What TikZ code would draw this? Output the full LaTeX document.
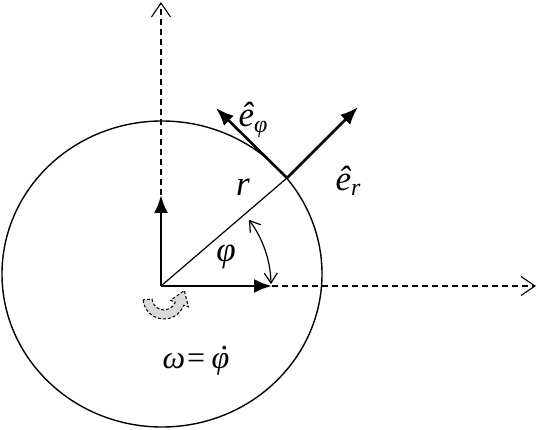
\documentclass[tikz,border=0pt]{standalone}
\usepackage{amsmath}
\usepackage{fontspec}
\setmainfont{Liberation Serif}
\usetikzlibrary{arrows.meta,calc}
\newcommand{\subsc}[1]{\raisebox{-0.35ex}{\fontsize{24}{24}\selectfont\itshape #1}}
\newcommand{\dotphi}{\rlap{\hspace{0.3em}\raisebox{0.6em}{.}}φ}
\begin{document}
\begin{tikzpicture}[x=1pt,y=1pt,
    vec/.style={line width=2.6pt,-{Latex[length=18pt,width=14pt]}},
    axis/.style={line width=1.1pt,dash pattern=on 6pt off 4pt,
      -{Straight Barb[length=14pt,width=19pt,line width=1.1pt]}},
    lbl/.style={font=\fontsize{35}{38}\selectfont\itshape,inner sep=0pt}]
  \useasboundingbox (0,0) rectangle (538,429);
  \coordinate (O) at (161,143);
  \coordinate (M) at (162,155);
  \coordinate (P) at (287,251);
  \coordinate (ey) at (161,234);
  \coordinate (ex) at (272,143);
  \coordinate (Y) at (161,427);
  \coordinate (X) at (536,143);
  \coordinate (er) at (358,322);
  \coordinate (ephi) at (216,321);
  \coordinate (w) at (164,131);
  \draw[line width=1.4pt] (M) ellipse[x radius=160,y radius=153];
  \draw[axis] (ey) -- (Y);
  \draw[axis] (ex) -- (X);
  \draw[line width=1.2pt] (O) -- (P);
  \draw[vec] (O) -- (ey);
  \draw[vec] (O) -- (ex);
  \draw[vec] (P) -- (er);
  \draw[vec] (P) -- (ephi);
  \draw[line width=1.2pt,{Straight Barb[length=10pt,width=13pt]}-{Straight Barb[length=10pt,width=13pt]}]
    ([shift={(37:110)}]O) arc[start angle=37,end angle=1,radius=110];
  \draw[fill=gray!30,line width=1pt,dash pattern=on 3pt off 2pt]
    ([shift={(185:21)}]w) arc[start angle=185,end angle=340,radius=21]
    -- ([shift={(340:26)}]w) -- ($(w)+(340:16.5)+(70:14)$)
    -- ([shift={(340:7)}]w) -- ([shift={(340:12)}]w)
    arc[start angle=340,end angle=185,radius=12] -- cycle;
  \node[lbl] (lphi) at (253,309) {ê\subsc{φ}};
  \node[lbl] (lr) at (243,242) {r};
  \node[lbl] (ler) at (348,248) {ê\subsc{r}};
  \node[lbl] (lang) at (226,172) {φ};
  \node[lbl,font=\fontsize{32}{36}\selectfont\itshape] (lw) at (196,68) {ω=\hspace{0.15em}\dotphi};
\end{tikzpicture}
\end{document}
